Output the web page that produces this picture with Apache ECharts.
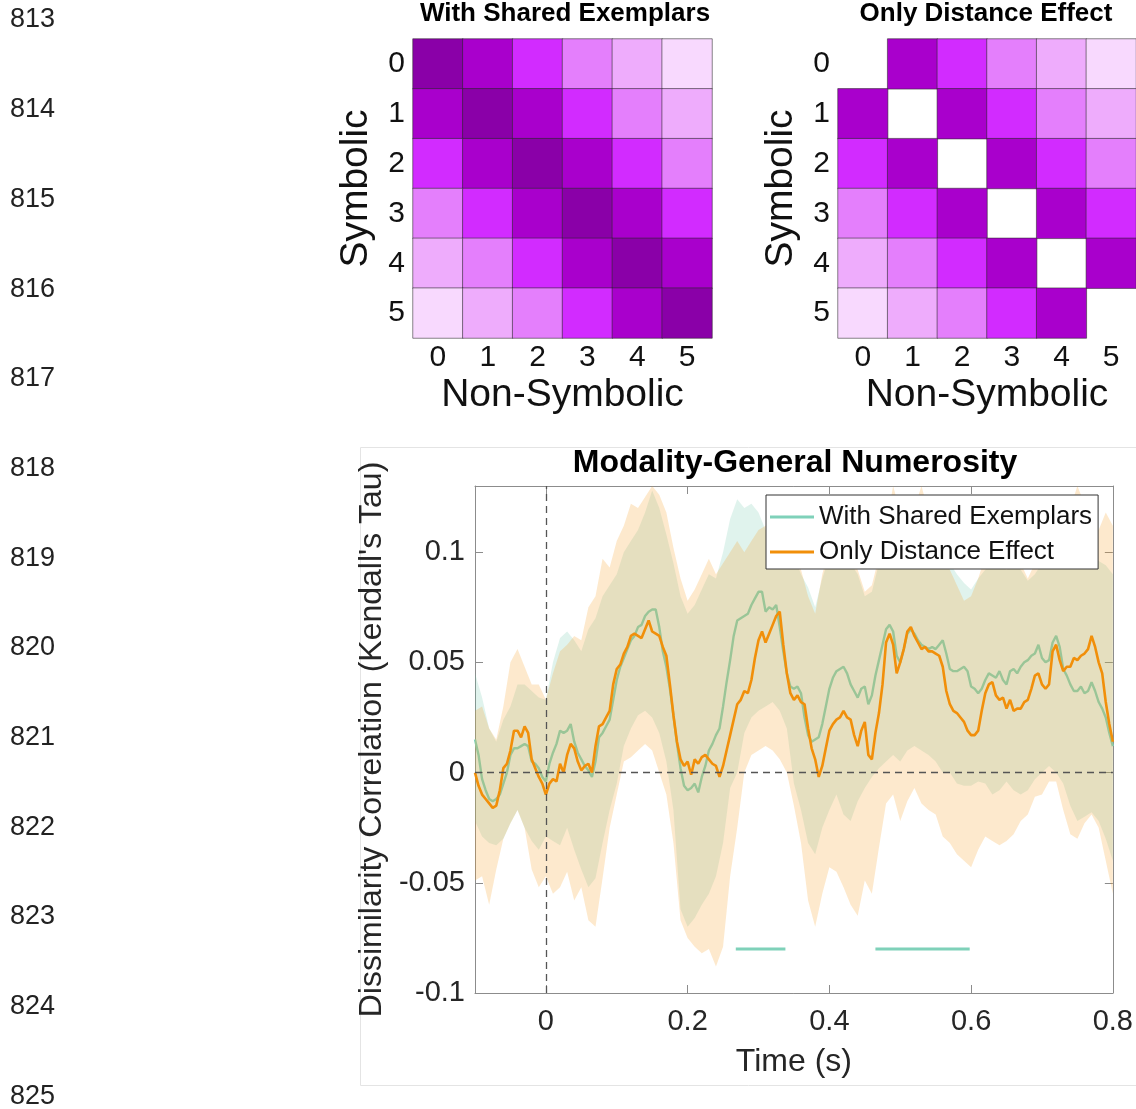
<!DOCTYPE html>
<html>
<head>
<meta charset="utf-8">
<title>Modality-General Numerosity</title>
<script src="https://cdn.jsdelivr.net/npm/echarts@6/dist/echarts.min.js"></script>
<style>
  html, body { margin: 0; height: 100%; background: #fff; }
  #main { width: 1136px; height: 1109px; }
</style>
</head>
<body>
<div id="main"></div>
<script>
// ---- heatmaps: numerosity dissimilarity (0 = darkest) ----
var numerals = ['0', '1', '2', '3', '4', '5'];
var sharedMatrix = [
  [0, 1, 2, 3, 4, 5],
  [1, 0, 1, 2, 3, 4],
  [2, 1, 0, 1, 2, 3],
  [3, 2, 1, 0, 1, 2],
  [4, 3, 2, 1, 0, 1],
  [5, 4, 3, 2, 1, 0]
];
var distanceMatrix = [
  [null, 1, 2, 3, 4, 5],
  [1, null, 1, 2, 3, 4],
  [2, 1, null, 1, 2, 3],
  [3, 2, 1, null, 1, 2],
  [4, 3, 2, 1, null, 1],
  [5, 4, 3, 2, 1, null]
];

// ---- time course, every 5 ms from -0.1 s to 0.8 s ----
var sharedTau = [
  0.015, 0.008, -0.003, -0.008, -0.012, -0.013, -0.012, -0.010, -0.005, 0.000,
  0.008, 0.011, 0.011, 0.012, 0.013, 0.012, 0.005, 0.004, 0.002, -0.002,
  -0.004, 0.004, 0.009, 0.013, 0.019, 0.018, 0.019, 0.022, 0.014, 0.009,
  0.006, 0.003, 0.001, -0.002, 0.005, 0.016, 0.018, 0.021, 0.024, 0.033,
  0.042, 0.048, 0.052, 0.056, 0.060, 0.062, 0.066, 0.067, 0.071, 0.073,
  0.074, 0.074, 0.066, 0.055, 0.048, 0.038, 0.026, 0.013, 0.002, -0.006,
  -0.008, -0.007, -0.005, -0.009, -0.002, 0.003, 0.010, 0.013, 0.017, 0.020,
  0.030, 0.041, 0.051, 0.062, 0.069, 0.070, 0.071, 0.072, 0.076, 0.079,
  0.082, 0.082, 0.073, 0.075, 0.074, 0.076, 0.066, 0.055, 0.045, 0.039,
  0.038, 0.039, 0.036, 0.025, 0.017, 0.014, 0.015, 0.016, 0.022, 0.030,
  0.038, 0.043, 0.046, 0.047, 0.048, 0.045, 0.040, 0.037, 0.034, 0.038,
  0.039, 0.031, 0.035, 0.044, 0.051, 0.058, 0.065, 0.067, 0.064, 0.053,
  0.050, 0.056, 0.063, 0.065, 0.063, 0.060, 0.058, 0.057, 0.056, 0.057,
  0.056, 0.058, 0.060, 0.054, 0.047, 0.046, 0.046, 0.047, 0.048, 0.046,
  0.039, 0.038, 0.036, 0.038, 0.042, 0.045, 0.044, 0.043, 0.046, 0.042,
  0.040, 0.046, 0.047, 0.045, 0.048, 0.050, 0.051, 0.053, 0.054, 0.058,
  0.052, 0.050, 0.051, 0.059, 0.062, 0.057, 0.047, 0.044, 0.040, 0.037,
  0.037, 0.039, 0.036, 0.037, 0.041, 0.037, 0.032, 0.029, 0.025, 0.018,
  0.012
];
var distanceTau = [
  0.000, -0.006, -0.010, -0.012, -0.014, -0.016, -0.015, -0.008, 0.002, 0.004,
  0.010, 0.019, 0.019, 0.016, 0.021, 0.018, 0.006, 0.002, -0.002, -0.005,
  -0.010, -0.005, -0.003, -0.004, 0.004, 0.000, 0.008, 0.013, 0.011, 0.005,
  0.001, 0.003, 0.004, 0.000, 0.012, 0.021, 0.022, 0.025, 0.028, 0.040,
  0.047, 0.049, 0.054, 0.057, 0.062, 0.063, 0.062, 0.061, 0.065, 0.069,
  0.064, 0.063, 0.062, 0.057, 0.053, 0.040, 0.026, 0.014, 0.006, 0.003,
  0.005, -0.001, 0.006, 0.004, 0.007, 0.008, 0.006, 0.004, 0.003, -0.002,
  0.003, 0.010, 0.017, 0.024, 0.031, 0.033, 0.037, 0.036, 0.042, 0.052,
  0.060, 0.064, 0.059, 0.063, 0.067, 0.071, 0.073, 0.058, 0.045, 0.036,
  0.033, 0.035, 0.032, 0.031, 0.020, 0.011, 0.006, -0.002, 0.003, 0.011,
  0.019, 0.022, 0.024, 0.025, 0.028, 0.025, 0.024, 0.017, 0.012, 0.019,
  0.023, 0.008, 0.006, 0.018, 0.027, 0.040, 0.059, 0.063, 0.058, 0.045,
  0.050, 0.056, 0.064, 0.066, 0.062, 0.059, 0.056, 0.057, 0.055, 0.055,
  0.054, 0.053, 0.048, 0.037, 0.031, 0.028, 0.027, 0.025, 0.023, 0.019,
  0.017, 0.017, 0.019, 0.028, 0.036, 0.040, 0.041, 0.035, 0.033, 0.034,
  0.029, 0.033, 0.028, 0.029, 0.029, 0.032, 0.033, 0.038, 0.044, 0.045,
  0.040, 0.038, 0.040, 0.055, 0.058, 0.051, 0.046, 0.048, 0.048, 0.052,
  0.051, 0.053, 0.054, 0.056, 0.062, 0.057, 0.050, 0.045, 0.032, 0.022,
  0.014
];

// ---- confidence bands, every 10 ms from -0.1 s to 0.8 s ----
var sharedUpper = [
  0.045, 0.034, 0.020, 0.014, 0.024, 0.030, 0.040, 0.040, 0.037, 0.034,
  0.033, 0.050, 0.061, 0.064, 0.060, 0.055, 0.065, 0.070, 0.080, 0.085,
  0.090, 0.100, 0.105, 0.110, 0.118, 0.128, 0.120, 0.108, 0.095, 0.080,
  0.072, 0.076, 0.083, 0.090, 0.088, 0.100, 0.115, 0.124, 0.120, 0.122,
  0.118, 0.110, 0.108, 0.110, 0.105, 0.098, 0.090, 0.084, 0.075, 0.088,
  0.098, 0.100, 0.098, 0.095, 0.090, 0.080, 0.082, 0.095, 0.105, 0.115,
  0.112, 0.122, 0.115, 0.118, 0.110, 0.105, 0.100, 0.095, 0.090, 0.086,
  0.083, 0.088, 0.092, 0.095, 0.094, 0.092, 0.095, 0.092, 0.087, 0.090,
  0.095, 0.100, 0.104, 0.100, 0.102, 0.105, 0.100, 0.098, 0.096, 0.094,
  0.090
];
var sharedLower = [
  -0.022, -0.029, -0.032, -0.033, -0.030, -0.023, -0.017, -0.025, -0.031, -0.035,
  -0.029, -0.031, -0.033, -0.025, -0.035, -0.044, -0.052, -0.048, -0.032, -0.017,
  -0.005, 0.012, 0.020, 0.026, 0.028, 0.025, 0.018, 0.005, -0.017, -0.062,
  -0.070, -0.066, -0.060, -0.055, -0.047, -0.032, -0.007, 0.000, 0.018, 0.025,
  0.028, 0.030, 0.032, 0.028, 0.020, -0.005, -0.017, -0.032, -0.037, -0.025,
  -0.017, -0.010, -0.019, -0.022, -0.013, -0.007, -0.002, 0.002, 0.005, 0.008,
  0.005, 0.010, 0.012, 0.010, 0.008, 0.005, 0.000, 0.000, -0.005, -0.006,
  -0.006, -0.004, -0.005, -0.010, -0.008, -0.004, -0.008, -0.010, -0.008, -0.003,
  0.000, 0.003, 0.000, -0.005, -0.015, -0.022, -0.020, -0.018, -0.022, -0.030,
  -0.040
];
var distanceUpper = [
  0.028, 0.030, 0.020, 0.015, 0.030, 0.050, 0.056, 0.048, 0.040, 0.040,
  0.033, 0.045, 0.055, 0.058, 0.062, 0.060, 0.075, 0.080, 0.097, 0.093,
  0.105, 0.112, 0.122, 0.120, 0.125, 0.130, 0.126, 0.118, 0.102, 0.088,
  0.078, 0.083, 0.090, 0.097, 0.090, 0.095, 0.100, 0.105, 0.100, 0.105,
  0.110, 0.112, 0.115, 0.122, 0.110, 0.100, 0.092, 0.080, 0.072, 0.090,
  0.102, 0.105, 0.100, 0.098, 0.092, 0.082, 0.085, 0.098, 0.112, 0.130,
  0.118, 0.115, 0.120, 0.130, 0.118, 0.110, 0.100, 0.092, 0.085, 0.078,
  0.080, 0.088, 0.098, 0.102, 0.100, 0.098, 0.100, 0.095, 0.088, 0.095,
  0.102, 0.110, 0.115, 0.112, 0.120, 0.130, 0.122, 0.112, 0.110, 0.118,
  0.112
];
var distanceLower = [
  -0.049, -0.047, -0.060, -0.044, -0.030, -0.023, -0.017, -0.025, -0.044, -0.052,
  -0.047, -0.055, -0.052, -0.045, -0.058, -0.052, -0.067, -0.070, -0.048, -0.025,
  -0.010, 0.005, 0.007, 0.010, 0.013, 0.010, 0.000, -0.010, -0.032, -0.067,
  -0.075, -0.079, -0.082, -0.080, -0.088, -0.079, -0.047, -0.025, 0.000, 0.008,
  0.010, 0.012, 0.010, 0.006, 0.000, -0.015, -0.032, -0.058, -0.070, -0.055,
  -0.043, -0.045, -0.052, -0.060, -0.065, -0.049, -0.055, -0.034, -0.014, -0.010,
  -0.022, -0.013, -0.007, -0.014, -0.017, -0.019, -0.029, -0.032, -0.037, -0.040,
  -0.043, -0.035, -0.029, -0.031, -0.033, -0.031, -0.028, -0.022, -0.019, -0.011,
  -0.010, -0.004, -0.004, -0.017, -0.028, -0.030, -0.023, -0.019, -0.025, -0.040,
  -0.055
];

// significant clusters (With Shared Exemplars)
var sigStart = [0.268, 0.465];
var sigEnd = [0.338, 0.598];
var sigLevel = -0.08;

var xTickValues = [0, 0.2, 0.4, 0.6, 0.8];
var yTickValues = [-0.1, -0.05, 0, 0.05, 0.1];
var lineNumbers = ['813', '814', '815', '816', '817', '818', '819', '820', '821', '822', '823', '824', '825'];

var lineTime = [];
for (var i = 0; i < sharedTau.length; i++) lineTime.push(Math.round((-0.1 + i * 0.005) * 1000) / 1000);
var bandTime = [];
for (var i = 0; i < sharedUpper.length; i++) bandTime.push(Math.round((-0.1 + i * 0.01) * 100) / 100);

var FONT = '"Liberation Sans", Arial, Helvetica, sans-serif';
var TEAL = '#7fd1b9';
var ORANGE = '#f18f0a';
var purples = ['#8a00a8', '#a900cc', '#d22bff', '#e47ffc', '#eeacfc', '#f8d9fe'];

function matrixData(m) {
  var out = [];
  for (var r = 0; r < m.length; r++) {
    for (var c = 0; c < m[r].length; c++) {
      if (m[r][c] !== null) out.push([c, r, m[r][c]]);
    }
  }
  return out;
}

function pairs(xs, ys) {
  return xs.map(function (x, i) { return [x, ys[i]]; });
}

function bandSeries(lower, upper, fill, z) {
  return {
    type: 'custom',
    xAxisIndex: 2,
    yAxisIndex: 2,
    z: z,
    silent: true,
    data: [[0, 0]],
    renderItem: function (params, api) {
      var pts = [];
      for (var i = 0; i < bandTime.length; i++) pts.push(api.coord([bandTime[i], upper[i]]));
      for (var j = bandTime.length - 1; j >= 0; j--) pts.push(api.coord([bandTime[j], lower[j]]));
      return { type: 'polygon', shape: { points: pts }, style: { fill: fill } };
    }
  };
}

function heatAxes(gridIndex, nameGapY) {
  return {
    x: {
      gridIndex: gridIndex, type: 'category', data: numerals, position: 'bottom',
      axisLine: { show: false }, axisTick: { show: false }, splitLine: { show: false },
      axisLabel: { fontSize: 30, color: '#111', margin: 5, fontFamily: FONT },
      name: 'Non-Symbolic', nameLocation: 'middle', nameGap: 38,
      nameTextStyle: { fontSize: 39, color: '#111', fontFamily: FONT }
    },
    y: {
      gridIndex: gridIndex, type: 'category', data: numerals, inverse: true,
      axisLine: { show: false }, axisTick: { show: false }, splitLine: { show: false },
      axisLabel: { fontSize: 30, color: '#111', margin: 8, fontFamily: FONT },
      name: 'Symbolic', nameLocation: 'middle', nameGap: nameGapY,
      nameTextStyle: { fontSize: 39, color: '#111', fontFamily: FONT }
    }
  };
}

var hmA = heatAxes(0, 37);
var hmB = heatAxes(1, 37);

var graphics = [
  { type: 'rect', shape: { x: 360.5, y: 447.5, width: 790, height: 638 }, style: { fill: 'none', stroke: '#e4e4e4', lineWidth: 1 }, z: -10 },
  { type: 'text', x: 565, y: 14, style: { text: 'With Shared Exemplars', fontSize: 26, fontWeight: 'bold', fontFamily: FONT, fill: '#000', align: 'center', verticalAlign: 'middle' } },
  { type: 'text', x: 986, y: 14, style: { text: 'Only Distance Effect', fontSize: 26, fontWeight: 'bold', fontFamily: FONT, fill: '#000', align: 'center', verticalAlign: 'middle' } },
  { type: 'text', x: 795, y: 463, style: { text: 'Modality-General Numerosity', fontSize: 32, fontWeight: 'bold', fontFamily: FONT, fill: '#000', align: 'center', verticalAlign: 'middle' } }
];
lineNumbers.forEach(function (n, i) {
  graphics.push({ type: 'text', x: 10, y: 20 + i * 89.7, style: { text: n, fontSize: 27, fontFamily: FONT, fill: '#222', align: 'left', verticalAlign: 'middle' } });
});

var gray = '#8c8c8c';
var sigSeries = sigStart.map(function (s, i) {
  return {
    type: 'line', xAxisIndex: 2, yAxisIndex: 2, z: 6, silent: true, symbol: 'none',
    data: [[s, sigLevel], [sigEnd[i], sigLevel]],
    lineStyle: { color: TEAL, width: 3 }
  };
});

function frameAxis(extra) {
  var base = {
    gridIndex: 2, type: 'value',
    axisLine: { show: true, onZero: false, lineStyle: { color: gray } },
    axisTick: { show: true, inside: true, length: 8, lineStyle: { color: gray } },
    splitLine: { show: false }
  };
  for (var k in extra) base[k] = extra[k];
  base.axisTick.customValues = extra.tickValues;
  delete base.tickValues;
  return base;
}

var option = {
  animation: false,
  backgroundColor: '#fff',
  textStyle: { fontFamily: FONT },
  graphic: graphics,
  visualMap: {
    type: 'continuous', show: false, min: 0, max: 5, seriesIndex: [0, 1],
    inRange: { color: purples }
  },
  legend: {
    data: ['With Shared Exemplars', 'Only Distance Effect'],
    orient: 'vertical', left: 766, top: 495,
    icon: 'rect', itemWidth: 44, itemHeight: 3, itemGap: 5, itemTextGap: 5,
    padding: [7, 6, 2, 4],
    backgroundColor: '#fff', borderColor: '#333', borderWidth: 1,
    textStyle: { fontSize: 26, color: '#111', lineHeight: 30, fontFamily: FONT }
  },
  grid: [
    { left: 413, top: 39, width: 299, height: 299 },
    { left: 838, top: 39, width: 299, height: 299 },
    { left: 475, top: 486, width: 640, height: 507 }
  ],
  xAxis: [
    hmA.x, hmB.x,
    frameAxis({
      min: -0.1, max: 0.8, position: 'bottom', tickValues: [0, 0.2, 0.4, 0.6],
      axisLabel: { customValues: xTickValues, fontSize: 29, color: '#262626', margin: 14 },
      name: 'Time (s)', nameLocation: 'middle', nameGap: 53,
      nameTextStyle: { fontSize: 32, color: '#262626' }
    }),
    frameAxis({
      min: -0.1, max: 0.8, position: 'top', tickValues: [0, 0.2, 0.4, 0.6],
      axisLabel: { show: false }
    })
  ],
  yAxis: [
    hmA.y, hmB.y,
    frameAxis({
      min: -0.1, max: 0.13, position: 'left', tickValues: [-0.05, 0, 0.05, 0.1],
      axisLabel: { customValues: yTickValues, fontSize: 29, color: '#262626', margin: 10 },
      name: "Dissimilarity Correlation (Kendall's Tau)", nameLocation: 'middle', nameGap: 83,
      nameTextStyle: { fontSize: 32, color: '#262626' }
    }),
    frameAxis({
      min: -0.1, max: 0.13, position: 'right', tickValues: [-0.05, 0, 0.05, 0.1],
      axisLabel: { show: false }
    })
  ],
  series: [
    {
      type: 'heatmap', xAxisIndex: 0, yAxisIndex: 0, data: matrixData(sharedMatrix),
      itemStyle: { borderColor: 'rgba(40,40,40,0.55)', borderWidth: 1 },
      emphasis: { disabled: true }
    },
    {
      type: 'heatmap', xAxisIndex: 1, yAxisIndex: 1, data: matrixData(distanceMatrix),
      itemStyle: { borderColor: 'rgba(40,40,40,0.55)', borderWidth: 1 },
      emphasis: { disabled: true }
    },
    bandSeries(sharedLower, sharedUpper, 'rgba(102,194,165,0.2)', 1),
    {
      name: 'With Shared Exemplars', type: 'line', xAxisIndex: 2, yAxisIndex: 2, z: 2,
      symbol: 'none', data: pairs(lineTime, sharedTau),
      lineStyle: { color: TEAL, width: 2.4 }, itemStyle: { color: TEAL },
      emphasis: { disabled: true }
    },
    bandSeries(distanceLower, distanceUpper, 'rgba(245,160,40,0.23)', 3),
    {
      name: 'Only Distance Effect', type: 'line', xAxisIndex: 2, yAxisIndex: 2, z: 4,
      symbol: 'none', data: pairs(lineTime, distanceTau),
      lineStyle: { color: ORANGE, width: 2.6 }, itemStyle: { color: ORANGE },
      emphasis: { disabled: true },
      markLine: {
        silent: true, symbol: 'none', label: { show: false },
        lineStyle: { color: '#555', type: [7, 5], width: 1.3 },
        data: [{ yAxis: 0 }, { xAxis: 0 }]
      }
    }
  ].concat(sigSeries)
};

var chart = echarts.init(document.getElementById('main'), null, { renderer: 'canvas' });
chart.setOption(option);
</script>
</body>
</html>
